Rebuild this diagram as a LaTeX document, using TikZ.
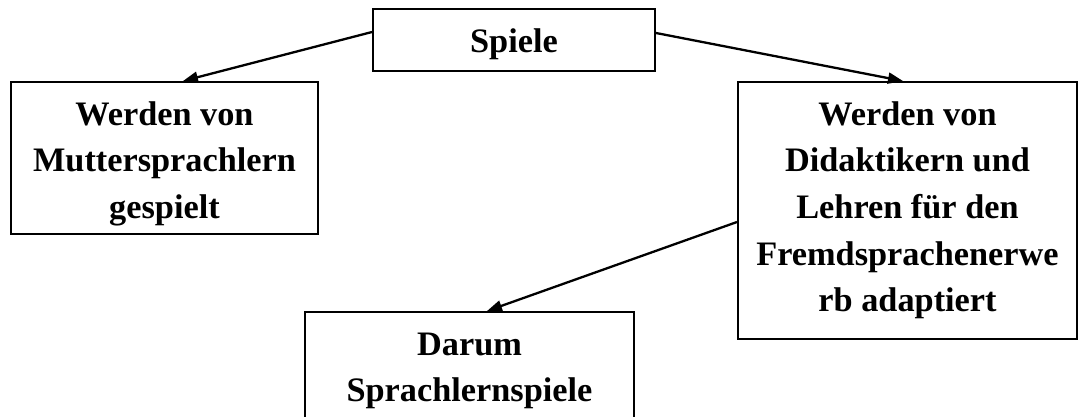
\documentclass[tikz,border=0pt]{standalone}
\usepackage{fontspec}
\setmainfont{Liberation Serif}
\usetikzlibrary{arrows.meta,calc}
\newcommand\boxtext[4]{\parbox[c][#2][t]{#1}{\centering\rule{0pt}{#3}#4\par}}
\begin{document}
\begin{tikzpicture}[x=1pt,y=-1pt,
  box/.style={draw=black,line width=2pt,inner sep=0pt,
    font=\bfseries\fontsize{34.3pt}{46.7pt}\selectfont},
  conn/.style={draw=black,line width=2.3pt,-{Triangle[length=15pt,width=11pt]}}]
\clip (0,0) rectangle (1079,417);
\fill[white] (0,0) rectangle (1079,417);
\node[box] (S) at (514,40) {\boxtext{282pt}{62pt}{44pt}{Spiele}};
\node[box] (L) at (164.5,158) {\boxtext{307pt}{152pt}{43pt}{Werden von\\Muttersprachlern\\gespielt}};
\node[box] (R) at (907.5,210.5) {\boxtext{339pt}{257pt}{43pt}{Werden von\\Didaktikern und\\Lehren für den\\Fremdsprachenerwe\\rb adaptiert}};
\node[box] (B) at (469.5,377) {\boxtext{329pt}{130pt}{43pt}{Darum\\Sprachlernspiele}};
\draw[conn] ($(S.west)+(0,-8)$) -- ($(L.north)+(18.5,0)$);
\draw[conn] ($(S.east)+(0,-7)$) -- ($(R.north)+(-4.5,0)$);
\draw[conn] ($(R.west)+(0,11.5)$) -- ($(B.north)+(17.5,0)$);
\end{tikzpicture}
\end{document}
